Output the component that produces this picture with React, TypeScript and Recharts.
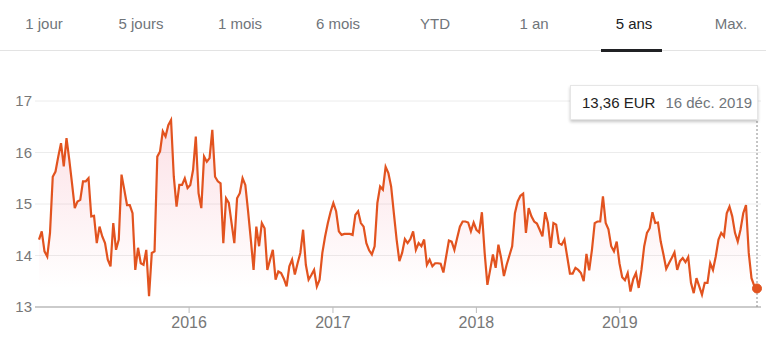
import React from 'react';
import {
  AreaChart, Area, XAxis, YAxis, CartesianGrid, Tooltip
} from 'recharts';

// cours hebdomadaires (EUR), du 15 déc. 2014 au 16 déc. 2019
const w2015 = [
  14.31, 14.47, 14.08, 13.98, 14.44, 15.53, 15.63, 15.92, 16.18, 15.73,
  16.28, 15.86, 15.40, 14.92, 15.05, 15.08, 15.44, 15.44, 15.50, 14.76,
  14.77, 14.24, 14.56, 14.37, 14.24, 13.92, 13.79, 14.63, 14.11, 14.31,
  15.57, 15.28, 14.98, 14.98, 14.82, 13.72, 14.15, 13.85, 13.82, 14.11,
  13.21, 14.05, 14.08, 15.92, 16.02, 16.41, 16.31, 16.53, 16.63, 15.53,
  14.95, 15.37, 15.37, 15.50, 15.31,
];
const w2016 = [
  15.37, 15.66, 16.31, 15.21, 14.92, 15.92, 15.82, 15.89, 16.44, 15.53,
  15.44, 15.40, 14.24, 15.11, 15.02, 14.63, 14.24, 15.11, 15.21, 15.50,
  15.37, 14.86, 14.31, 13.72, 14.56, 14.18, 14.63, 14.53, 13.72, 13.92,
  14.11, 13.53, 13.69, 13.66, 13.55, 13.40, 13.79, 13.92, 13.63, 13.85,
  14.05, 14.50, 13.82, 13.53, 13.62, 13.72, 13.40, 13.53, 14.05, 14.37,
  14.63, 14.85,
];
const w2017 = [
  15.02, 14.86, 14.47, 14.40, 14.42, 14.42, 14.42, 14.40, 14.79, 14.86,
  14.63, 14.56, 14.24, 14.10, 14.02, 14.18, 15.02, 15.34, 15.28, 15.72,
  15.60, 15.34, 14.82, 14.31, 13.89, 14.05, 14.32, 14.24, 14.32, 14.47,
  14.11, 14.24, 14.18, 14.31, 13.82, 13.92, 13.79, 13.85, 13.85, 13.84,
  13.67, 13.98, 14.29, 14.27, 14.11, 14.34, 14.56, 14.66, 14.66, 14.64,
  14.47, 14.64,
];
const w2018 = [
  14.50, 14.45, 14.84, 14.05, 13.43, 13.72, 14.02, 13.76, 14.21, 13.95,
  13.60, 13.82, 14.00, 14.18, 14.82, 15.05, 15.16, 15.20, 14.44, 14.92,
  14.76, 14.66, 14.62, 14.50, 14.37, 14.84, 14.63, 14.15, 14.63, 14.60,
  14.24, 14.21, 14.31, 13.98, 13.65, 13.65, 13.76, 13.72, 13.66, 13.50,
  14.03, 13.71, 14.11, 14.63, 14.66, 14.66, 15.15, 14.63, 14.51, 14.18,
  14.08, 14.27,
];
const w2019 = [
  13.85, 13.58, 13.52, 13.66, 13.30, 13.54, 13.66, 13.37, 13.72, 14.18,
  14.44, 14.53, 14.84, 14.63, 14.64, 14.27, 14.02, 13.74, 13.85, 13.95,
  14.06, 13.72, 13.89, 13.95, 13.87, 13.97, 13.47, 13.27, 13.56, 13.40,
  13.24, 13.47, 13.47, 13.85, 13.72, 13.98, 14.31, 14.44, 14.37, 14.82,
  14.95, 14.76, 14.44, 14.27, 14.50, 14.82, 14.98, 14.05, 13.56, 13.41,
  13.36,
];

const ranges = ['1 jour', '5 jours', '1 mois', '6 mois', 'YTD', '1 an', '5 ans', 'Max.'];
const rangeCenters = [44, 141, 240, 338, 435, 534, 634, 731];
const yearTicks = [2016, 2017, 2018, 2019];
const priceTicks = [13, 14, 15, 16, 17];
const MOIS = ['janv.', 'févr.', 'mars', 'avr.', 'mai', 'juin', 'juil.', 'août', 'sept.', 'oct.', 'nov.', 'déc.'];

const WEEK = 7 * 24 * 3600 * 1000;
const START = Date.UTC(2014, 11, 15);
const prices = [...w2015, ...w2016, ...w2017, ...w2018, ...w2019];
const data = prices.map((p, i) => ({ t: START + i * WEEK, price: p }));

const LINE = '#e2531f';
const FONT = 'Arial, "Liberation Sans", sans-serif';

const fmtDate = (t: number) => {
  const d = new Date(t);
  return `${d.getUTCDate()} ${MOIS[d.getUTCMonth()]} ${d.getUTCFullYear()}`;
};

const PriceBox = ({ payload }: any) => {
  if (!payload || !payload.length) return null;
  const row = payload[0].payload;
  return (
    <div style={{
      width: 186, height: 33, background: '#fff', border: '1px solid #e6e6e6',
      boxShadow: '0 2px 3px rgba(0,0,0,0.22)', boxSizing: 'content-box',
      fontFamily: FONT, fontSize: 15, lineHeight: '33px', whiteSpace: 'nowrap',
    }}>
      <span style={{ marginLeft: 11, color: '#222' }}>{row.price.toFixed(2).replace('.', ',')} EUR</span>
      <span style={{ marginLeft: 10, color: '#70757a' }}>{fmtDate(row.t)}</span>
    </div>
  );
};

export default function App() {
  return (
    <div style={{ position: 'absolute', left: 0, top: 0, width: 766, height: 346, background: '#fff', fontFamily: FONT }}>
      {ranges.map((r, i) => (
        <span key={r} style={{
          position: 'absolute', top: 15, left: rangeCenters[i], transform: 'translateX(-50%)',
          fontSize: 15, color: r === '5 ans' ? '#202124' : '#70757a', whiteSpace: 'nowrap',
        }}>{r}</span>
      ))}
      <div style={{ position: 'absolute', left: 0, top: 50, width: 766, height: 1, background: '#e3e3e3' }} />
      <div style={{ position: 'absolute', left: 601, top: 49, width: 61, height: 3, background: '#202124' }} />

      <div style={{ position: 'absolute', left: 0, top: 0 }}>
        <AreaChart width={766} height={346} data={data} margin={{ top: 101, right: 5, bottom: 9, left: 0 }}>
          <defs>
            <linearGradient id="pinkFill" x1="0" y1="0" x2="0" y2="1">
              <stop offset="0%" stopColor="#f0607a" stopOpacity={0.32} />
              <stop offset="90%" stopColor="#f0607a" stopOpacity={0} />
            </linearGradient>
          </defs>
          <CartesianGrid vertical={false} stroke="#ececec" />
          <XAxis
            dataKey="t"
            type="number"
            domain={['dataMin', 'dataMax']}
            ticks={yearTicks.map((y) => Date.UTC(y, 0, 1))}
            tickFormatter={(t: number) => String(new Date(t).getUTCFullYear())}
            padding={{ left: 4, right: 4 }}
            axisLine={{ stroke: '#bdbdbd', strokeWidth: 1.5 }}
            tickLine={{ stroke: '#bdbdbd' }}
            tickSize={6}
            tickMargin={4}
            tick={{ fill: '#777', fontSize: 16 }}
          />
          <YAxis
            domain={[13, 17]}
            ticks={priceTicks}
            width={35}
            axisLine={false}
            tickLine={false}
            tickSize={0}
            tickMargin={3}
            tick={{ fill: '#777', fontSize: 15 }}
          />
          <Tooltip
            active
            defaultIndex={data.length - 1}
            position={{ x: 570, y: 85 }}
            isAnimationActive={false}
            cursor={{ stroke: '#8a8a8a', strokeWidth: 1, strokeDasharray: '2 2' }}
            content={<PriceBox />}
          />
          <Area
            type="linear"
            dataKey="price"
            stroke={LINE}
            strokeWidth={2.2}
            fill="url(#pinkFill)"
            dot={false}
            activeDot={{ r: 4.5, fill: LINE, stroke: LINE, strokeWidth: 1 }}
            isAnimationActive={false}
          />
        </AreaChart>
      </div>
    </div>
  );
}
